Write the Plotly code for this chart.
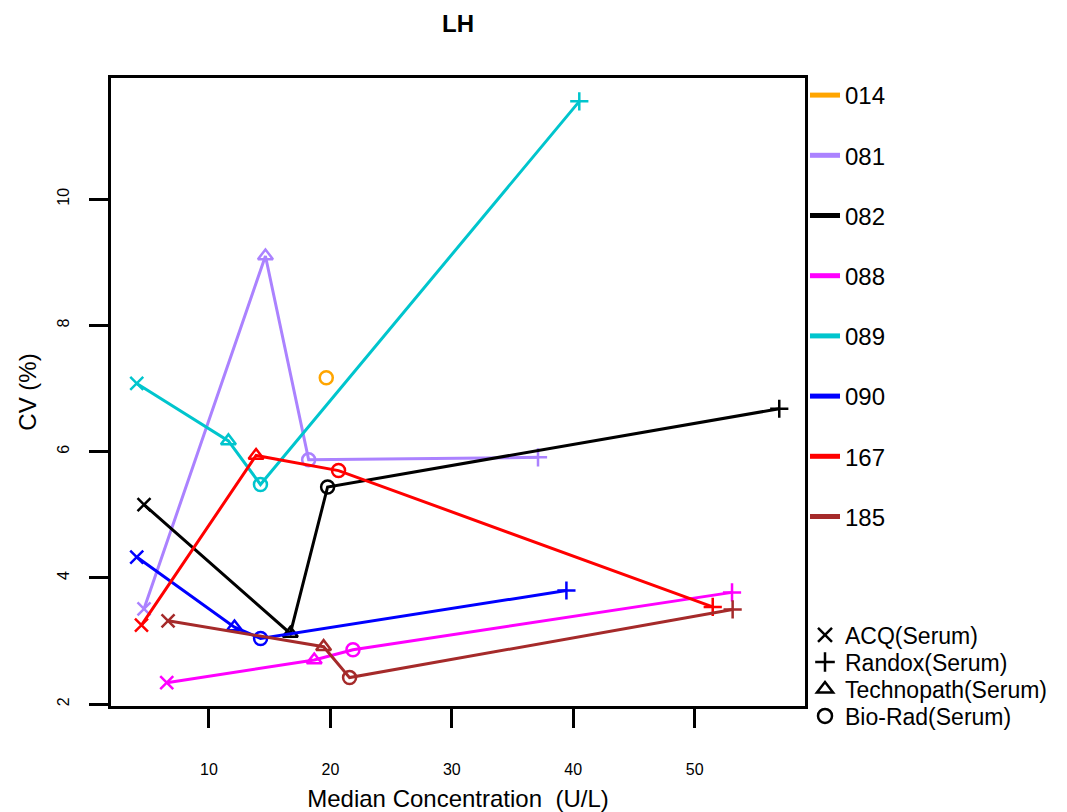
import plotly.graph_objects as go

# ---- data ----
labs = ["014", "081", "082", "088", "089", "090", "167", "185"]
colors = ["#FFA500", "#AB82FF", "#000000", "#FF00FF", "#00C5CD", "#0000FF", "#FF0000", "#A52A2A"]
kits = ["ACQ(Serum)", "Technopath(Serum)", "Bio-Rad(Serum)", "Randox(Serum)"]
kit_legend_order = ["ACQ(Serum)", "Randox(Serum)", "Technopath(Serum)", "Bio-Rad(Serum)"]
kit_symbols = {"ACQ(Serum)": "x-thin-open", "Randox(Serum)": "cross-thin-open",
               "Technopath(Serum)": "triangle-up-open", "Bio-Rad(Serum)": "circle-open"}

# median concentration (U/L), per lab, in kit order above
median_014 = [None, None, 19.66, None]
median_081 = [4.65, 14.65, 18.21, 37.1]
median_082 = [4.65, 16.7, 19.77, 56.97]
median_088 = [6.52, 18.67, 21.86, 53.08]
median_089 = [4.05, 11.6, 14.24, 40.5]
median_090 = [4.05, 12.1, 14.25, 39.44]
median_167 = [4.44, 13.88, 20.67, 51.49]
median_185 = [6.63, 19.44, 21.58, 53.13]

# CV (%)
cv_014 = [None, None, 7.17, None]
cv_081 = [3.51, 9.10, 5.87, 5.91]
cv_082 = [5.16, 3.12, 5.44, 6.68]
cv_088 = [2.34, 2.70, 2.86, 3.77]
cv_089 = [7.08, 6.17, 5.48, 11.55]
cv_090 = [4.33, 3.22, 3.04, 3.80]
cv_167 = [3.25, 5.94, 5.70, 3.54]
cv_185 = [3.32, 2.91, 2.42, 3.50]

medians = [median_014, median_081, median_082, median_088, median_089, median_090, median_167, median_185]
cvs = [cv_014, cv_081, cv_082, cv_088, cv_089, cv_090, cv_167, cv_185]

x_ticks = [10, 20, 30, 40, 50]
y_ticks = [2, 4, 6, 8, 10]

FONT = "Liberation Sans, Arial, sans-serif"

fig = go.Figure()

for lab, col, xs, ys in zip(labs, colors, medians, cvs):
    px, py, sy = [], [], []
    for k, xv, yv in zip(kits, xs, ys):
        if xv is None:
            continue
        px.append(xv); py.append(yv); sy.append(kit_symbols[k])
    fig.add_trace(go.Scatter(
        x=px, y=py, mode="lines+markers", showlegend=False,
        line=dict(color=col, width=3),
        marker=dict(symbol=sy, size=13, color=col, line=dict(color=col, width=2.5)),
    ))

# legend 1: labs
for lab, col in zip(labs, colors):
    fig.add_trace(go.Scatter(
        x=[None], y=[None], mode="lines", name=lab, legend="legend",
        legendgroup=lab, line=dict(color=col, width=5),
    ))

# kit legends: one small legend per kit so spacing matches
kit_legend_names = ["legend2", "legend3", "legend4", "legend5"]
for k, lg in zip(kit_legend_order, kit_legend_names):
    fig.add_trace(go.Scatter(
        x=[None], y=[None], mode="markers", name=k, legend=lg,
        marker=dict(symbol=kit_symbols[k], size=14, color="black",
                    line=dict(color="black", width=2.5)),
    ))

PLOT_TOP, PLOT_BOTTOM = 78, 706
def paper_y(py):
    return (PLOT_BOTTOM - py) / (PLOT_BOTTOM - PLOT_TOP)

kit_centers = [635, 662, 689, 716]
kit_legends = {}
for lg, yc in zip(kit_legend_names, kit_centers):
    kit_legends[lg] = dict(x=1.0, xanchor="left", y=paper_y(yc), yanchor="middle",
                           font=dict(size=23), bgcolor="rgba(0,0,0,0)", itemwidth=30)

fig.update_layout(
    width=1067, height=812,
    margin=dict(l=111, r=262, t=78, b=106, autoexpand=False),
    paper_bgcolor="white", plot_bgcolor="white",
    font=dict(family=FONT, color="black"),
    title=dict(text="<b>LH</b>", x=(111 + 805) / 2 / 1067, xanchor="center",
               y=1 - 24 / 812, yanchor="middle", font=dict(size=24, color="black")),
    xaxis=dict(
        range=[1.93, 59.09], tickvals=x_ticks, ticktext=[str(v) for v in x_ticks],
        showline=True, linecolor="black", linewidth=3, mirror=True,
        ticks="outside", ticklen=19, tickwidth=3, tickcolor="black",
        showgrid=False, zeroline=False, tickfont=dict(size=16),
        ticklabelstandoff=28,
        title=dict(text="Median Concentration \u00a0(U/L)", font=dict(size=24), standoff=14),
    ),
    yaxis=dict(
        range=[1.97, 11.92], tickvals=y_ticks, ticktext=[str(v) for v in y_ticks],
        showline=True, linecolor="black", linewidth=3, mirror=True,
        ticks="outside", ticklen=19, tickwidth=3, tickcolor="black",
        showgrid=False, zeroline=False, tickfont=dict(size=16), tickangle=-90,
        ticklabelstandoff=14,
        title=dict(text="CV (%)", font=dict(size=24), standoff=12),
    ),
    legend=dict(x=1.0, xanchor="left", y=paper_y(73), yanchor="top",
                font=dict(size=24), bgcolor="rgba(0,0,0,0)", tracegroupgap=26,
                itemwidth=30, traceorder="grouped", maxheight=700),
    **kit_legends,
)

fig.write_html("out.html")
